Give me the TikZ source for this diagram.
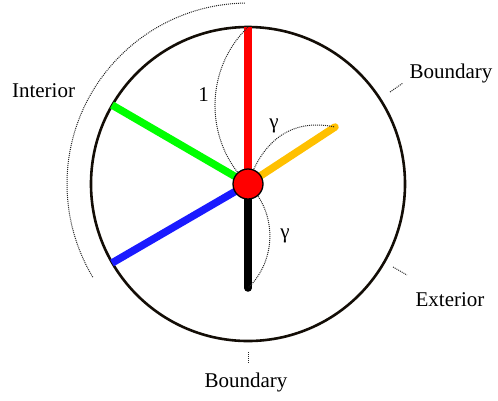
\documentclass[tikz,border=0pt]{standalone}
\usepackage{fontspec}
\setmainfont{Liberation Serif}
\usetikzlibrary{calc}
\begin{document}
\begin{tikzpicture}[x=1pt,y=1pt,
  lbl/.style={anchor=base,inner sep=0pt,font=\fontsize{21}{25}\selectfont},
  spoke/.style={line width=7.5pt},
  dots/.style={line width=1pt,dash pattern=on 1pt off 1pt,draw=black!85},
  tick/.style={line width=1pt,dash pattern=on 1pt off 1pt,draw=black!85}]
\useasboundingbox (0,-400) rectangle (498,0);
\coordinate (c) at (248,-184);
\coordinate (top) at (248,-27);
\coordinate (g) at (112,-105);
\coordinate (b) at (112,-263);
\coordinate (o) at (335,-127);
\coordinate (k) at (248,-288);
% outer dotted arc
\draw[dots] ($(c)+(91:181)$) arc[start angle=91,end angle=211,radius=181];
% circle
\draw[line width=2.6pt,draw=black!90!brown] (c) circle[radius=157];
% spokes
\draw[spoke,red] (c) -- (top);
\draw[spoke,green] (c) -- (g);
\draw[spoke,color={rgb,255:red,26;green,26;blue,255}] (c) -- (b);
\draw[spoke,color={rgb,255:red,255;green,192;blue,0},line cap=round] (c) -- (o);
\draw[spoke,black,line cap=round] (c) -- (k);
% dotted arcs
\draw[dots] (c) to[bend left=46] (top);
\draw[dots] (c) to[out=72,in=168,looseness=1.1] (o);
\draw[dots] (c) to[bend left=46] (k);
% dot
\node[circle,fill=red,draw=black,line width=1.3pt,minimum size=30pt,inner sep=0pt] (dot) at (c) {};
% ticks
\coordinate (t1a) at (390,-92); \coordinate (t1b) at (403,-83);
\coordinate (t2a) at (393,-267); \coordinate (t2b) at (407,-275);
\coordinate (t3a) at (248,-352); \coordinate (t3b) at (248,-364);
\draw[tick] (t1a) -- (t1b);
\draw[tick] (t2a) -- (t2b);
\draw[tick] (t3a) -- (t3b);
% labels
\node[lbl] (lb1) at (451,-78) {Boundary};
\node[lbl] (lex) at (450,-306) {Exterior};
\node[lbl] (lb2) at (246,-387) {Boundary};
\node[lbl] (lin) at (43.5,-97) {Interior};
\node[lbl] (l1) at (203.5,-101) {1};
\node[lbl] (lg1) at (274,-128) {γ};
\node[lbl] (lg2) at (285,-238) {γ};
\end{tikzpicture}
\end{document}
